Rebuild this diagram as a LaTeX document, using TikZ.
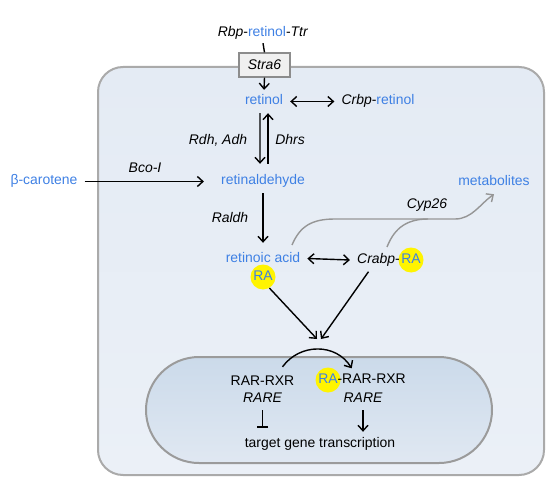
\documentclass[tikz,border=0pt]{standalone}
\usepackage{fontspec}
\setmainfont{Liberation Sans}
\usetikzlibrary{arrows.meta}
\definecolor{blueT}{RGB}{62,128,228}
\definecolor{ylw}{RGB}{255,244,0}
\definecolor{cellTop}{RGB}{228,235,244}
\definecolor{cellBot}{RGB}{235,240,247}
\definecolor{cellBorder}{RGB}{170,170,170}
\definecolor{nucTop}{RGB}{203,218,234}
\definecolor{nucBot}{RGB}{224,232,242}
\definecolor{nucBorder}{RGB}{155,155,155}
\definecolor{straFill}{RGB}{240,240,240}
\definecolor{straBorder}{RGB}{140,140,140}
\definecolor{grayArr}{RGB}{150,150,150}
\begin{document}
\begin{tikzpicture}[x=1bp,y=-1bp,
  every node/.style={font=\fontsize{14}{16}\selectfont},
  txt/.style={inner xsep=7bp, inner ysep=5bp, text height=10bp, text depth=3bp},
  bltxt/.style={txt, text=blueT},
  ittxt/.style={txt, font=\fontsize{14}{16}\selectfont\itshape},
  arr/.style={-{Straight Barb[length=5.5bp,width=10bp]}, line width=1.4bp, black},
  darr/.style={{Straight Barb[length=5.5bp,width=10bp]}-{Straight Barb[length=5.5bp,width=10bp]}, line width=1.4bp, black},
  grayarr/.style={-{Straight Barb[length=5.5bp,width=10bp]}, line width=1.4bp, draw=grayArr},
  tbar/.style={-{Bar[width=11bp]}, line width=1.4bp, black},
  rabub/.style={circle, fill=ylw, minimum size=25bp, inner sep=0pt}
]
\useasboundingbox (0,0) rectangle (550,481);

% cell
\draw[line width=2bp, draw=cellBorder, top color=cellTop, bottom color=cellBot, rounded corners=25bp]
  (98,67) rectangle (544,475);
% nucleus
\draw[line width=2bp, draw=nucBorder, top color=nucTop, bottom color=nucBot, rounded corners=53bp]
  (146,357) rectangle (492,463);

% top
\node[txt] (rbp) at (263,33.5) {\textit{Rbp}-\textcolor{blueT}{retinol}-\textit{Ttr}};
\node[draw=straBorder, fill=straFill, line width=1.2bp, minimum width=51bp, minimum height=24bp,
      inner sep=0pt, font=\fontsize{14}{16}\selectfont\itshape] (stra) at (264.5,65) {Stra6};
\draw[line width=1.4bp] ([yshift=2bp]rbp.south) -- (stra.north);

\node[bltxt] (retinol) at (264,101.5) {retinol};
\node[txt] (crbp) at (378,101.5) {\textit{Crbp}-\textcolor{blueT}{retinol}};
\draw[arr] (stra.south) -- (retinol.north);
\draw[darr] (retinol.east) -- (crbp.west);

\node[bltxt] (retinal) at (263,181.5) {retinaldehyde};
\draw[arr] ([xshift=-4bp]retinol.south) -- ([xshift=-3bp,yshift=6bp]retinal.north);
\draw[arr] ([xshift=5bp,yshift=6bp]retinal.north) -- ([xshift=4bp]retinol.south);
\node[ittxt] (rdh) at (218,141.5) {Rdh, Adh};
\node[ittxt] (dhrs) at (290,141.5) {Dhrs};

\node[bltxt] (beta) at (44,181.5) {β-carotene};
\node[ittxt] (bco) at (145,169.5) {Bco-I};
\draw[arr] (beta.east) -- ([xshift=-10bp]retinal.west);

\node[ittxt] (raldh) at (230,218.5) {Raldh};
\node[bltxt] (racid) at (263,258.5) {retinoic acid};
\draw[arr] (retinal.south) -- ([yshift=4bp]racid.north);

\node[rabub] (ra1) at (263,277) {};
\node[txt, text=blueT, inner sep=0pt] (ra1t) at (ra1.center) {RA};

\node[rabub] (ra2) at (411,260) {};
\node[txt, text=blueT, inner sep=0pt] (ra2t) at (ra2.center) {RA};
\node[txt] (crabp) at (378.5,260) {\textit{Crabp}-};
\draw[darr] (racid.east) -- (crabp.west);

\node[bltxt] (metab) at (494,182.5) {metabolites};
\node[ittxt] (cyp) at (427,205.5) {Cyp26};
\coordinate (g1) at (292,245);
\coordinate (g2) at (387,247);
\coordinate (gj) at (428,219);
\draw[grayarr] (g1) .. controls (300,226) and (312,219) .. (335,219) -- (455,219)
   .. controls (472,219) and (480,204) .. (metab.south);
\draw[grayarr, -] (g2) .. controls (393,232) and (403,219) .. (gj);

% to nucleus
\coordinate (meet) at (319,339);
\draw[arr] (ra1.-60) -- ([xshift=-2bp]meet);
\draw[arr] ([xshift=-10bp]crabp.south) -- ([xshift=2bp]meet);

% nucleus content
\node[txt] (rar) at (262.5,381.5) {RAR-RXR};
\node[ittxt] (rare1) at (262.5,398.5) {RARE};
\node[rabub] (ra3) at (328,380) {};
\node[txt, text=blueT, inner sep=0pt] (ra3t) at (ra3.center) {RA};
\node[txt, anchor=west, inner sep=0pt] (rar2) at ([xshift=-0.5bp]ra3t.east) {-RAR-RXR};
\node[ittxt] (rare2) at (363,398.5) {RARE};
\node[txt] (target) at (320,443.5) {target gene transcription};

\draw[arr] ([xshift=20bp,yshift=3bp]rar.north) .. controls (300,343) and (336,343) .. ([xshift=-20bp,yshift=5bp]rar2.north);
\draw[tbar] (rare1.south) -- ([yshift=4bp]rare1.south |- target.north);
\draw[arr] (rare2.south) -- (rare2.south |- target.north);
\end{tikzpicture}
\end{document}
